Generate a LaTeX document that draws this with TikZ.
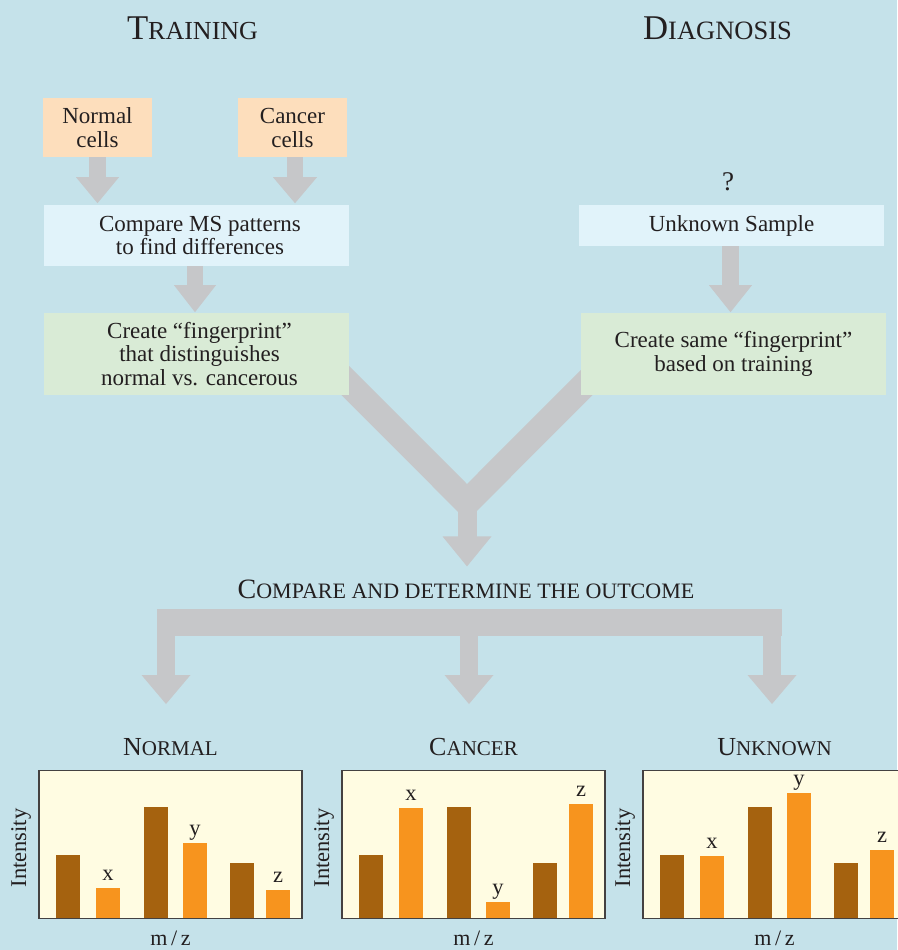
\documentclass[tikz,border=0pt]{standalone}
\usepackage{fontspec}
\setmainfont{Liberation Serif}
\usetikzlibrary{calc}
\definecolor{bgblue}{HTML}{C5E2EA}
\definecolor{peach}{HTML}{FDDEBC}
\definecolor{paleblue}{HTML}{E1F3FA}
\definecolor{palegreen}{HTML}{D9EBD6}
\definecolor{arrowgray}{HTML}{C6C7C9}
\definecolor{cream}{HTML}{FFFCE2}
\definecolor{darkbar}{HTML}{A5620F}
\definecolor{orangebar}{HTML}{F7941E}
\definecolor{ink}{HTML}{231F20}
\pgfdeclarelayer{bglayer}
\pgfdeclarelayer{arrowlayer}
\pgfsetlayers{bglayer,arrowlayer,main}
\newcommand{\mysc}[4]{{\fontsize{#1}{#1}\selectfont #3}{\fontsize{#2}{#2}\selectfont #4}}
\newcommand{\fatdown}[5]{%
  \draw[arrowgray, line width=#5pt] (#1) -- ++(0,#2+1);
  \fill[arrowgray] (#1) ++(0,#2) ++(-#4,0) -- ++(2*#4,0) -- ++(-#4,#3) -- cycle;}
\tikzset{
  txt/.style={inner sep=0pt, align=center, text=ink, font=\fontsize{23}{23.5}\selectfont},
  peachbox/.style={txt, fill=peach, minimum width=109pt, minimum height=59pt, font=\fontsize{23}{24}\selectfont},
  bluebox/.style={txt, fill=paleblue, minimum width=305pt},
  greenbox/.style={txt, fill=palegreen, minimum width=305pt, minimum height=82pt},
  heading/.style={inner sep=0pt, text=ink, anchor=base},
  lbl/.style={inner sep=0pt, text=ink, font=\fontsize{22.5}{22.5}\selectfont},
  plotframe/.style={draw=ink!85, line width=1.2pt, fill=cream, minimum width=263pt, minimum height=147.6pt, inner sep=0pt},
}
\newcommand{\msplot}[6]{%
  \node[plotframe] (#1) at (#2+131.5,844.5) {};
  \begin{scope}[shift={(#2,0)}]
    \fill[darkbar] (17,855) rectangle (41,917.7);
    \fill[orangebar] (57,#4) rectangle (81,917.7);
    \fill[darkbar] (105,807) rectangle (129,917.7);
    \fill[orangebar] (144,#5) rectangle (168,917.7);
    \fill[darkbar] (191,863) rectangle (215,917.7);
    \fill[orangebar] (227,#6) rectangle (251,917.7);
    \node[lbl, anchor=base] (#1x) at (69,#4-8) {x};
    \node[lbl, anchor=base] (#1y) at (156,#5-8) {y};
    \node[lbl, anchor=base] (#1z) at (239,#6-8) {z};
    \node[lbl, rotate=90] (#1int) at (-18,848) {Intensity};
    \node[lbl, anchor=base, font=\fontsize{22}{22}\selectfont] (#1mz) at (131.5,945) {m\,/\,z};
    \node[heading] (#1t) at (131.5,755) {#3};
  \end{scope}}
\begin{document}
\begin{tikzpicture}[x=1pt,y=-1pt]
\useasboundingbox (0,0) rectangle (897,950);
\begin{pgfonlayer}{bglayer}
  \fill[bgblue] (0,0) rectangle (897,950);
\end{pgfonlayer}

% headings
\node[heading] (train) at (192.5,40) {\mysc{34.7}{26}{T}{RAINING}};
\node[heading] (diag) at (717.5,40) {\mysc{34.7}{26.5}{D}{IAGNOSIS}};

% training boxes
\node[peachbox] (nc) at (97.5,127.5) {Normal\\cells};
\node[peachbox] (cc) at (292.5,127.5) {Cancer\\cells};
\node[bluebox, minimum height=61pt] (cmp) at (196.5,235.5) {\hspace*{7pt}Compare MS patterns\\\hspace*{7pt}to find differences};
\node[greenbox] (fpL) at (196.5,354) {\hspace*{6pt}Create “fingerprint”\\\hspace*{6pt}that distinguishes\\\hspace*{6pt}normal vs. cancerous};

% diagnosis boxes
\node[inner sep=0pt, text=ink, font=\fontsize{27}{27}\selectfont] (qm) at (728,182) {?};
\node[bluebox, minimum height=41pt] (unk) at (731.5,225.5) {Unknown Sample};
\node[greenbox] (fpR) at (733.5,354) {Create same “fingerprint”\\based on training};

% outcome title
\node[heading] (outc) at (466,598) {\mysc{28}{22}{C}{OMPARE AND DETERMINE THE OUTCOME}};

% plots
\msplot{pN}{39}{\mysc{26}{21}{N}{ORMAL}}{888}{843}{890}
\msplot{pC}{342}{\mysc{26}{21}{C}{ANCER}}{808}{902}{804}
\msplot{pU}{643}{\mysc{26}{21}{U}{NKNOWN}}{856}{793}{850}

% arrows
\begin{pgfonlayer}{arrowlayer}
  \fatdown{nc.south}{20}{26}{21.5}{17}
  \fatdown{[xshift=2.5pt]cc.south}{20}{26}{22}{16}
  \fatdown{[xshift=-1.5pt]cmp.south}{19}{27}{21}{16}
  \fatdown{[xshift=-1pt]unk.south}{39}{27}{21.5}{17}
  \coordinate (Ls) at ($(fpL.east)+(-29,1.4)$);
  \coordinate (Rs) at ($(fpR.west)+(33,1.4)$);
  \coordinate (J) at (467,502.4);
  \draw[arrowgray, line width=26pt, line join=miter] (Ls) -- (J) -- (Rs);
  \fatdown{J}{34}{30}{24.5}{19}
  \coordinate (BL) at (157,622.5);
  \coordinate (BR) at (782,622.5);
  \draw[arrowgray, line width=27pt] (BL) -- (BR);
  \fatdown{166,630}{45}{29}{24.5}{18}
  \fatdown{469,630}{45}{29}{24.5}{18}
  \fatdown{772,630}{45}{29}{24.5}{18}
\end{pgfonlayer}
\end{tikzpicture}
\end{document}
